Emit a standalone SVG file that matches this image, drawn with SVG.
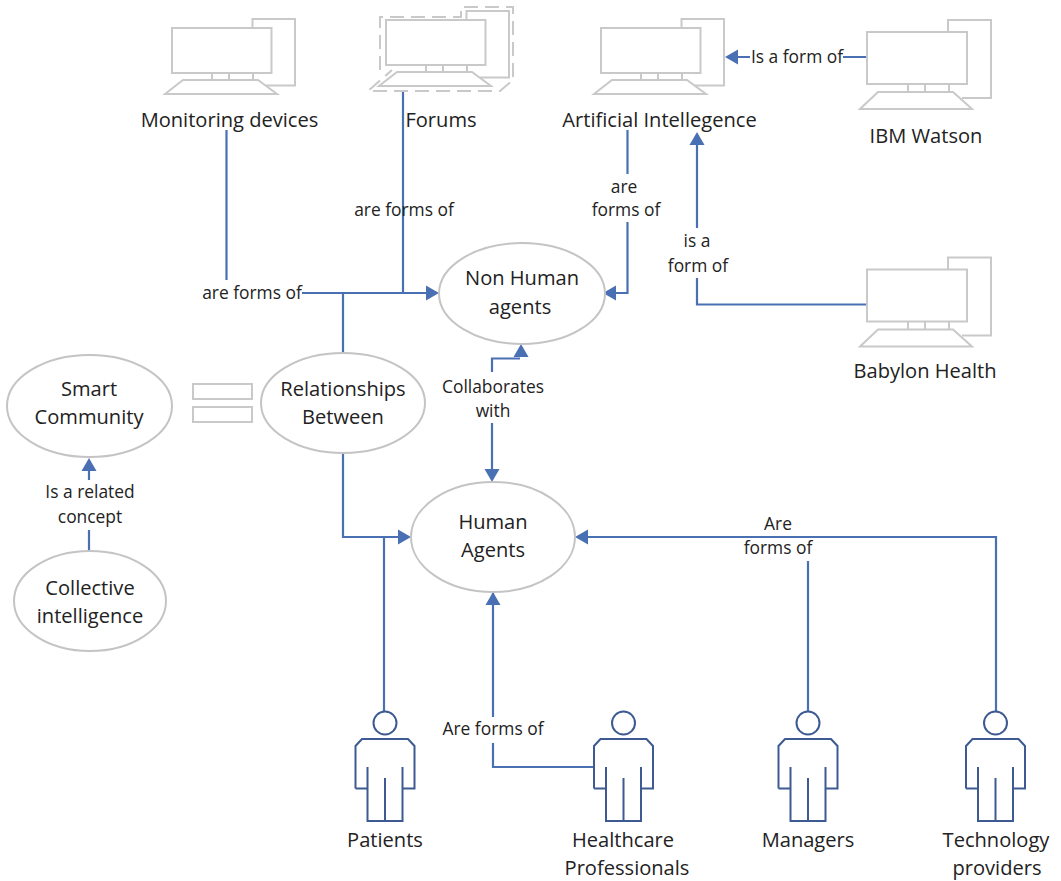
<svg xmlns="http://www.w3.org/2000/svg" width="1061" height="881" viewBox="0 0 1061 881">
<style>
text{font-family:"Open Sans","Noto Sans","Liberation Sans",sans-serif;fill:#222;text-anchor:middle}
.n{font-size:20.100px}
.l{font-size:17.400px}
.g{fill:none;stroke:#c9c9c9;stroke-width:2}
.e{fill:#fff;stroke:#c4c4c4;stroke-width:2}
.c{fill:none;stroke:#4a70b4;stroke-width:2.2}
.a{fill:#4a70b4;stroke:none}
.p{fill:none;stroke:#3d5a92;stroke-width:2}
</style>
<defs>
<g id="pc1" class="g"><path d="M252.500 28V19H295V85.500H266"/><rect x="172" y="28" width="99.500" height="45"/><path d="M212 73V80M229 73V80M253 73V80"/><path d="M165 94L183 80H258L277 94Z"/></g>
<g id="pc2" class="g"><path d="M948 32V20H991V98H962"/><rect x="867" y="32" width="100" height="52"/><path d="M908 84V92M925 84V92M949 84V92"/><path d="M860 109L878 92H953L972 109Z"/></g>
<g id="person" class="p"><circle cx="0" cy="723" r="11.500"/><path d="M-29.500 788.500V746L-23 739H23L29.500 746V788.500H17.500M-29.500 788.500H-17.500M-17.500 767V821H17.500V767M0 778V821"/></g>
<path id="ar" class="a" d="M0 0L-13 -7.500V7.500Z"/>
</defs>
<g id="connectors">
<path class="c" d="M226.500 130V280M302 293H428M403 92V293M343 293V353M343 453V537H400M384 537V712"/>
<path class="c" d="M492 372V358.500H520"/>
<path class="c" d="M492 423V470M493 592V717M493 743V767H594M996 712V537H588M808 561V712"/>
<path class="c" d="M627.500 130V174M627.500 222V293H616M697 228V145M697 278V304.500H867M843 57H867M750 57H738M89 480V468M89 530V551"/>
<use href="#ar" transform="translate(439 293)"/>
<use href="#ar" transform="translate(411 537)"/>
<use href="#ar" transform="translate(521 344) rotate(-90)"/>
<use href="#ar" transform="translate(492 482) rotate(90)"/>
<use href="#ar" transform="translate(493 592) rotate(-90)"/>
<use href="#ar" transform="translate(575 537) rotate(180)"/>
<use href="#ar" transform="translate(603 293) rotate(180)"/>
<use href="#ar" transform="translate(697 132) rotate(-90)"/>
<use href="#ar" transform="translate(725 57) rotate(180)"/>
<use href="#ar" transform="translate(89 458) rotate(-90)"/>
</g>
<g id="edge-labels">
<text class="l" x="252" y="299">are forms of</text>
<text class="l" x="404" y="216">are forms of</text>
<text class="l" x="624" y="193">are</text>
<text class="l" x="626" y="216">forms of</text>
<text class="l" x="697" y="247">is a</text>
<text class="l" x="698" y="272">form of</text>
<text class="l" x="797" y="63">Is a form of</text>
<text class="l" x="493" y="393">Collaborates</text>
<text class="l" x="493" y="417">with</text>
<text class="l" x="90" y="498">Is a related</text>
<text class="l" x="90" y="523">concept</text>
<text class="l" x="493" y="735">Are forms of</text>
<text class="l" x="778" y="530">Are</text>
<text class="l" x="778" y="554">forms of</text>
</g>
<g id="monitoring-devices"><use href="#pc1"/><text class="n" x="229.500" y="127">Monitoring devices</text></g>
<g id="forums"><use href="#pc1" transform="translate(214 -8)"/><path fill="none" stroke="#c9c9c9" stroke-width="2" stroke-dasharray="14 7" d="M380 70V17H461V7H513V80L500 91H368L392 70"/><text class="n" x="441" y="127">Forums</text></g>
<g id="artificial-intelligence"><use href="#pc1" transform="translate(429 0)"/><text class="n" x="659.500" y="127">Artificial Intellegence</text></g>
<g id="ibm-watson"><use href="#pc2"/><text class="n" x="926" y="143">IBM Watson</text></g>
<g id="babylon-health"><use href="#pc2" transform="translate(0 237.500)"/><text class="n" x="925" y="378">Babylon Health</text></g>
<g id="non-human-agents"><ellipse class="e" cx="522" cy="293.500" rx="83" ry="50.500"/><text class="n" x="522" y="285">Non Human</text><text class="n" x="520" y="314">agents</text></g>
<g id="relationships-between"><ellipse class="e" cx="343" cy="403" rx="82" ry="50"/><text class="n" x="343" y="396">Relationships</text><text class="n" x="343" y="424">Between</text></g>
<g id="smart-community"><ellipse class="e" cx="89.500" cy="406" rx="82.500" ry="51"/><text class="n" x="89" y="396">Smart</text><text class="n" x="89" y="424">Community</text></g>
<g id="collective-intelligence"><ellipse class="e" cx="90" cy="601" rx="76" ry="50"/><text class="n" x="90" y="595">Collective</text><text class="n" x="90" y="623">intelligence</text></g>
<g id="human-agents"><ellipse class="e" cx="493" cy="537" rx="82" ry="55"/><text class="n" x="493" y="529">Human</text><text class="n" x="493" y="557">Agents</text></g>
<g id="equals"><rect class="g" x="193" y="384" width="59" height="15"/><rect class="g" x="193" y="407" width="59" height="15"/></g>
<g id="patients"><use href="#person" transform="translate(385 0)"/><text class="n" x="385" y="847">Patients</text></g>
<g id="healthcare-professionals"><use href="#person" transform="translate(623.500 0)"/><text class="n" x="623" y="847">Healthcare</text><text class="n" x="627" y="875">Professionals</text></g>
<g id="managers"><use href="#person" transform="translate(808 0)"/><text class="n" x="808" y="847">Managers</text></g>
<g id="technology-providers"><use href="#person" transform="translate(995.500 0)"/><text class="n" x="996" y="847">Technology</text><text class="n" x="997" y="875">providers</text></g>
</svg>
